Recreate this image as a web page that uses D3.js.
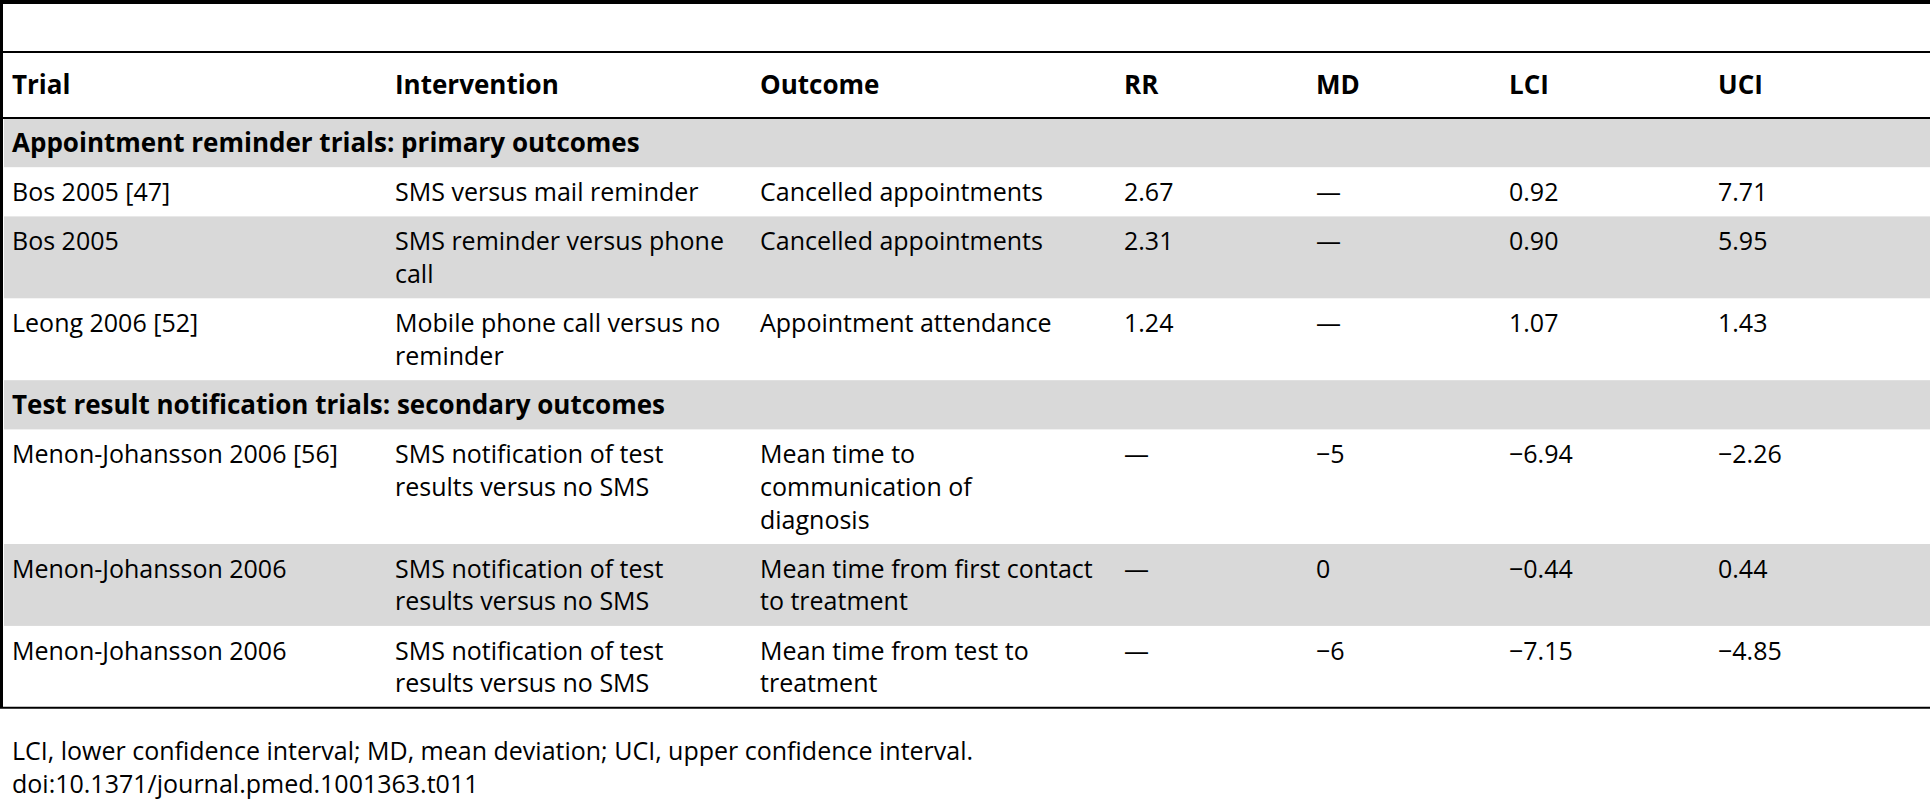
<!DOCTYPE html><html><head><meta charset="utf-8"><script src="https://cdn.jsdelivr.net/npm/d3@7"></script>
<style>body{margin:0;background:#fff}</style></head><body><svg id="c" width="1930" height="800"></svg>
<script>
const headers=["Trial","Intervention","Outcome","RR","MD","LCI","UCI"];
const colX=[12,395,760,1124,1316,1509,1718];
const sections=["Appointment reminder trials: primary outcomes","Test result notification trials: secondary outcomes"];
const trials=["Bos 2005 [47]","Bos 2005","Leong 2006 [52]","Menon-Johansson 2006 [56]","Menon-Johansson 2006","Menon-Johansson 2006"];
const interventions=[["SMS versus mail reminder"],["SMS reminder versus phone","call"],["Mobile phone call versus no","reminder"],["SMS notification of test","results versus no SMS"],["SMS notification of test","results versus no SMS"],["SMS notification of test","results versus no SMS"]];
const outcomes=[["Cancelled appointments"],["Cancelled appointments"],["Appointment attendance"],["Mean time to","communication of","diagnosis"],["Mean time from first contact","to treatment"],["Mean time from test to","treatment"]];
const rr=["2.67","2.31","1.24","—","—","—"];
const md=["—","—","—","−5","0","−6"];
const lci=["0.92","0.90","1.07","−6.94","−0.44","−7.15"];
const uci=["7.71","5.95","1.43","−2.26","0.44","−4.85"];
const rowSection=[0,0,0,1,1,1];
const footnotes=["LCI, lower confidence interval; MD, mean deviation; UCI, upper confidence interval.","doi:10.1371/journal.pmed.1001363.t011"];

const svg=d3.select("#c"),F="'Open Sans',sans-serif",FS=25,FB=26,LH=32.7,W=1930;
const g=svg.append("g");
let rows=[];let prev=-1;
trials.forEach((t,i)=>{
  if(rowSection[i]!==prev){rows.push({type:"sec",cells:[[sections[rowSection[i]]]],n:1});prev=rowSection[i];}
  rows.push({type:"data",cells:[[t],interventions[i],outcomes[i],[rr[i]],[md[i]],[lci[i]],[uci[i]]],n:Math.max(interventions[i].length,outcomes[i].length)});
});
let y=118;
rows.forEach(r=>{r.y=y;r.h=16.5+LH*r.n;y+=r.h;});
const bottom=y;
rows.forEach((r,i)=>{r.gray=(i%2===0);});
g.selectAll("rect.bg").data(rows.filter(r=>r.gray)).join("rect").attr("x",4).attr("y",d=>d.y).attr("width",W).attr("height",d=>d.h).attr("fill","#d9d9d9");
rows.forEach(r=>{
  r.cells.forEach((lines,ci)=>{
    lines.forEach((t,li)=>{
      g.append("text").attr("x",colX[ci]).attr("y",r.y+25+li*LH).attr("dy","0.35em")
       .attr("font-family",F).attr("font-size",r.type==="sec"?FB:FS).attr("font-weight",r.type==="sec"?"bold":"normal").attr("fill","#000").text(t);
    });
  });
});
g.selectAll("text.h").data(headers).join("text").attr("x",(d,i)=>colX[i]).attr("y",85).attr("dy","0.35em")
 .attr("font-family",F).attr("font-size",FB).attr("font-weight","bold").text(d=>d);
const line=(y,w)=>g.append("line").attr("x1",0).attr("x2",W).attr("y1",y).attr("y2",y).attr("stroke","#000").attr("stroke-width",w);
line(2,4);line(52,2);line(118,2);line(bottom,2);
g.append("line").attr("x1",1.5).attr("x2",1.5).attr("y1",0).attr("y2",bottom).attr("stroke","#000").attr("stroke-width",3);
footnotes.forEach((t,i)=>g.append("text").attr("x",12).attr("y",751+i*33).attr("dy","0.35em").attr("font-family",F).attr("font-size",FS).text(t));
</script></body></html>
